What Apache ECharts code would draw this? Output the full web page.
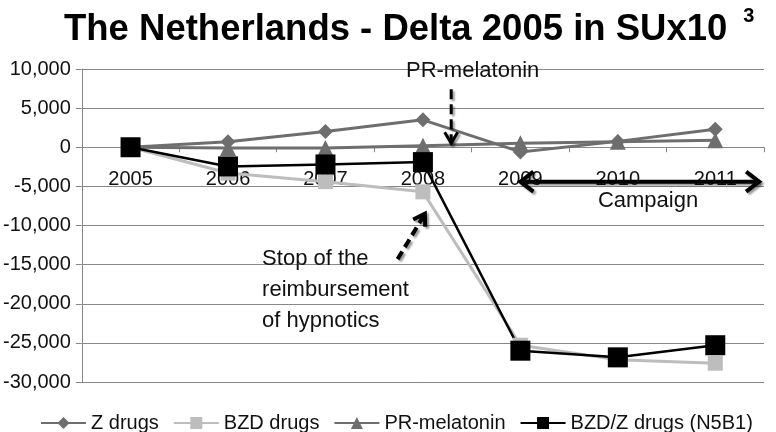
<!DOCTYPE html>
<html><head><meta charset="utf-8">
<script src="https://cdn.jsdelivr.net/npm/echarts@6/dist/echarts.min.js"></script>
<style>html,body{margin:0;padding:0;background:#fff}#c{width:776px;height:432px}</style>
</head><body><div id="c"></div>
<script>
// ---- data ----
const years = ['2005', '2006', '2007', '2008', '2009', '2010', '2011'];
const zDrugs = [0, 700, 2000, 3500, -600, 750, 2300];
const bzdDrugs = [0, -3300, -4400, -5700, -25300, -27150, -27600];
const prMelatonin = [0, -100, -100, 200, 500, 700, 900];
const bzdZDrugs = [0, -2450, -2200, -1900, -26000, -26850, -25300];
const seriesNames = ['Z drugs', 'BZD drugs', 'PR-melatonin', 'BZD/Z drugs (N5B1)'];
const yMin = -30000, yMax = 10000, yStep = 5000;

const FONT = '"Liberation Sans", Arial, Helvetica, sans-serif';
const GRID = { left: 81, right: 12, top: 69, bottom: 50 };
const chart = echarts.init(document.getElementById('c'), null, { renderer: 'canvas' });

function lineSeries(name, data, symbol, size, color, width) {
  return {
    name, type: 'line', data, symbol, symbolSize: size,
    lineStyle: { color, width }, itemStyle: { color },
    emphasis: { disabled: true }
  };
}

// x axis sits on the zero line of the value axis
const gridH = 432 - GRID.top - GRID.bottom;
const zeroOffset = -gridH * (0 - yMin) / (yMax - yMin);

chart.setOption({
  animation: false,
  backgroundColor: '#fff',
  title: {
    left: 59, top: 1,
    text: '{m|The Netherlands - Delta 2005 in SUx10}{s|3}',
    textStyle: {
      rich: {
        m: { fontSize: 36.5, fontWeight: 'bold', fontFamily: FONT, color: '#000', lineHeight: 48 },
        s: { fontSize: 20, fontWeight: 'bold', fontFamily: FONT, color: '#000', verticalAlign: 'top', lineHeight: 48, padding: [0, 0, 0, 16] }
      }
    }
  },
  legend: {
    left: 35, top: 408, itemWidth: 45, itemHeight: 15, itemGap: 14,
    data: seriesNames,
    textStyle: { fontSize: 20, fontFamily: FONT, color: '#111' }
  },
  grid: GRID,
  xAxis: {
    type: 'category', data: years, boundaryGap: true,
    offset: zeroOffset,
    axisLine: { onZero: false, lineStyle: { color: '#888', width: 1 } },
    axisTick: { show: true, length: 5, lineStyle: { color: '#888' } },
    axisLabel: { margin: 22, fontSize: 20, fontFamily: FONT, color: '#111' },
    splitLine: { show: false }
  },
  yAxis: {
    type: 'value', min: yMin, max: yMax, interval: yStep,
    axisLine: { show: true, lineStyle: { color: '#888', width: 1 } },
    axisTick: { show: true, length: 6, lineStyle: { color: '#888' } },
    axisLabel: { margin: 11, fontSize: 20, fontFamily: FONT, color: '#111',
      formatter: v => v.toLocaleString('en-US') },
    splitLine: { lineStyle: { color: '#888', width: 1 } }
  },
  series: [
    lineSeries(seriesNames[0], zDrugs, 'diamond', 15, '#6e6e6e', 3),
    lineSeries(seriesNames[1], bzdDrugs, 'rect', 15, '#bdbdbd', 3),
    lineSeries(seriesNames[2], prMelatonin, 'triangle', 16, '#6e6e6e', 3),
    lineSeries(seriesNames[3], bzdZDrugs, 'rect', 20, '#000', 2.5)
  ]
});

// ---- annotations anchored to axes ----
function px(i, v) {
  const a = chart.convertToPixel({ xAxisIndex: 0 }, 0);
  const b = chart.convertToPixel({ xAxisIndex: 0 }, 1);
  return [a + (b - a) * i, chart.convertToPixel({ yAxisIndex: 0 }, v)];
}
const shadow = { shadowColor: 'rgba(0,0,0,0.4)', shadowBlur: 2, shadowOffsetX: 2, shadowOffsetY: 2 };
function chevron(tip, from, len, half, width) {
  const dx = tip[0] - from[0], dy = tip[1] - from[1];
  const L = Math.hypot(dx, dy); const ux = dx / L, uy = dy / L;
  const bx = tip[0] - ux * len, by = tip[1] - uy * len;
  return {
    type: 'polyline', z: 100,
    shape: { points: [[bx - uy * half, by + ux * half], tip, [bx + uy * half, by - ux * half]] },
    style: Object.assign({ stroke: '#000', lineWidth: width, fill: null, lineJoin: 'miter' }, shadow)
  };
}
function arrow(from, to, dash, width, len, half) {
  return [
    { type: 'polyline', z: 100, shape: { points: [from, to] },
      style: Object.assign({ stroke: '#000', lineWidth: width, lineDash: dash, fill: null }, shadow) },
    chevron(to, from, len, half, width)
  ];
}
const prFrom = px(3.29, 7400), prTo = px(3.29, 500);
const stFrom = px(2.74, -14300), stTo = px(3.02, -8500);
const cL = px(4.0, -4400), cR = px(6.45, -4400);
const els = [].concat(
  arrow(prFrom, prTo, [10, 5], 3, 11, 6.5),
  arrow(stFrom, stTo, [9, 5], 4, 11, 7),
  arrow(cL, cR, null, 4, 13, 10),
  [chevron(cL, cR, 13, 10, 4)]
);
const tPR = px(3.51, 9800), tCamp = px(5.31, -6900), tStop = px(1.35, -12300);
els.push(
  { type: 'text', z: 101, x: tPR[0], y: tPR[1],
    style: { text: 'PR-melatonin', fontSize: 22, fontFamily: FONT, fill: '#111', align: 'center', verticalAlign: 'middle' } },
  { type: 'text', z: 101, x: tCamp[0], y: tCamp[1],
    style: { text: 'Campaign', fontSize: 22, fontFamily: FONT, fill: '#111', align: 'center', verticalAlign: 'middle' } },
  { type: 'text', z: 101, x: tStop[0], y: tStop[1],
    style: { text: 'Stop of the\nreimbursement\nof hypnotics', fontSize: 22, lineHeight: 31, fontFamily: FONT, fill: '#111', align: 'left', verticalAlign: 'top' } }
);
chart.setOption({ graphic: { elements: els } });
</script>
</body></html>
